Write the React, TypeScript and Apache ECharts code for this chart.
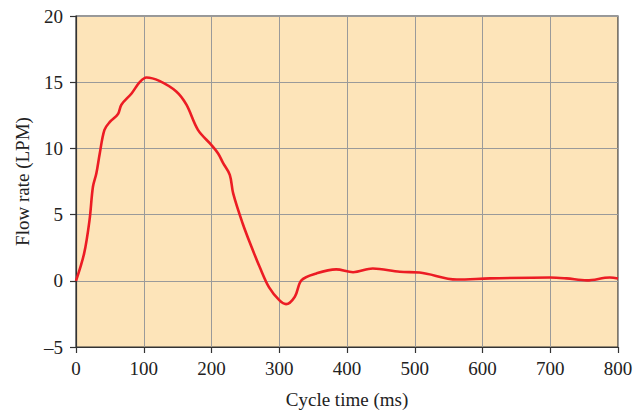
import React, { useEffect, useRef } from "react";
import * as echarts from "echarts";

const timeMs = [0, 12, 20, 25, 30, 35, 42, 50, 62, 67, 82, 94, 104, 123, 148, 163, 180, 200, 210, 217, 227, 232, 246, 259, 271, 285, 300, 310, 323, 333, 355, 384, 409, 438, 478, 507, 562, 611, 700, 724, 754, 788, 800];
const flowLpm = [0, 2.07, 4.6, 7.1, 8.1, 9.6, 11.4, 12.0, 12.6, 13.3, 14.15, 15.0, 15.36, 15.1, 14.3, 13.3, 11.4, 10.25, 9.6, 8.9, 8.0, 6.6, 4.33, 2.57, 1.06, -0.5, -1.46, -1.76, -1.2, 0.05, 0.56, 0.86, 0.65, 0.93, 0.68, 0.63, 0.1, 0.18, 0.25, 0.18, 0.03, 0.25, 0.18];

const xTicks = [0, 100, 200, 300, 400, 500, 600, 700, 800];
const yTicks = [-5, 0, 5, 10, 15, 20];

const FONT = "Liberation Serif, Times New Roman, serif";

export default function App() {
  const ref = useRef<HTMLDivElement>(null);
  useEffect(() => {
    if (!ref.current) return;
    const chart = echarts.init(ref.current, null, { renderer: "svg" });
    chart.setOption({
      animation: false,
      backgroundColor: "#ffffff",
      grid: {
        left: 76,
        right: 16,
        top: 16,
        bottom: 67,
        containLabel: false,
        outerBoundsMode: "none",
        show: true,
        backgroundColor: "#FDE4B9",
        borderColor: "#333333",
        borderWidth: 1.2,
      },
      xAxis: {
        type: "value",
        min: xTicks[0],
        max: xTicks[xTicks.length - 1],
        interval: 100,
        name: "Cycle time (ms)",
        nameLocation: "middle",
        nameGap: 43,
        nameTextStyle: { fontFamily: FONT, fontSize: 19, color: "#222" },
        axisLine: { show: true, onZero: false, lineStyle: { color: "#333", width: 1.2 } },
        axisTick: { show: true, inside: false, length: 6, lineStyle: { color: "#333", width: 1.2 } },
        axisLabel: { fontFamily: FONT, fontSize: 19, color: "#222", margin: 12 },
        splitLine: { show: true, lineStyle: { color: "#9a9a9a", width: 1 } },
      },
      yAxis: {
        type: "value",
        min: yTicks[0],
        max: yTicks[yTicks.length - 1],
        interval: 5,
        name: "Flow rate (LPM)",
        nameLocation: "middle",
        nameGap: 44,
        nameTextStyle: { fontFamily: FONT, fontSize: 19, color: "#222" },
        axisLine: { show: true, onZero: false, lineStyle: { color: "#333", width: 1.2 } },
        axisTick: { show: true, inside: false, length: 6, lineStyle: { color: "#333", width: 1.2 } },
        axisLabel: {
          fontFamily: FONT,
          fontSize: 19,
          color: "#222",
          margin: 13,
          formatter: (v: number) => (v < 0 ? "\u2013" + Math.abs(v) : String(v)),
        },
        splitLine: { show: true, lineStyle: { color: "#9a9a9a", width: 1 } },
      },
      series: [
        {
          type: "line",
          data: timeMs.map((t, i) => [t, flowLpm[i]]),
          smooth: 0.35,
          showSymbol: false,
          lineStyle: { color: "#EC1C24", width: 2.6 },
        },
      ],
    });
    return () => chart.dispose();
  }, []);
  return <div ref={ref} style={{ width: 634, height: 414, position: "absolute", left: 0, top: 0 }} />;
}
